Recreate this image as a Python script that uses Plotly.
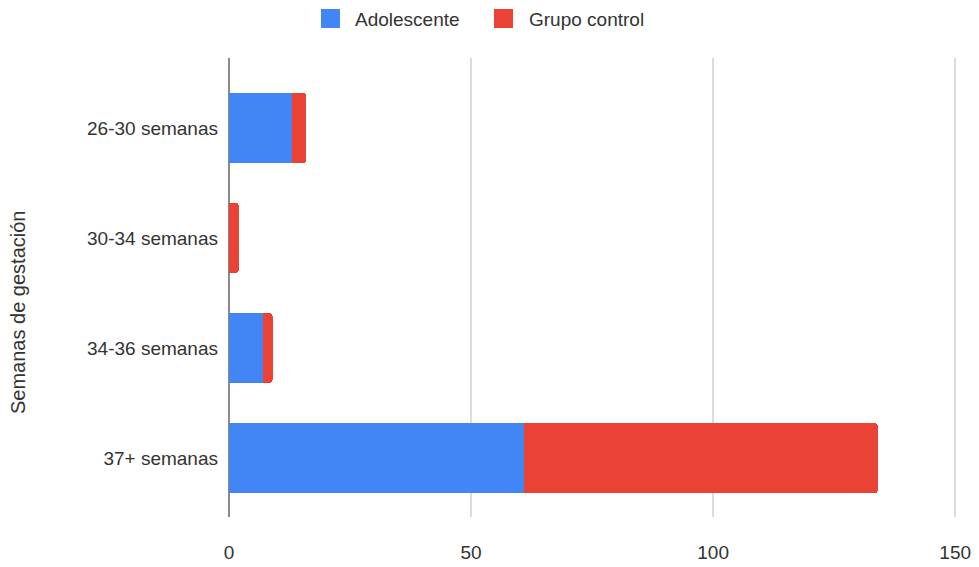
import plotly.graph_objects as go

# Gestational age groups and counts per group
categorias = ["26-30 semanas", "30-34 semanas", "34-36 semanas", "37+ semanas"]
adolescente = [13, 0, 7, 61]
grupo_control = [3, 2, 2, 73]
x_ticks = [0, 50, 100, 150]

AZUL = "#4285F4"
ROJO = "#EA4335"
FONT = "Liberation Sans, Arial, sans-serif"

W, H = 979, 567
L, R, T, B = 229, 19, 58, 50
PW, PH = W - L - R, H - T - B


def px_x(px):
    return (px - L) / PW


def px_y(py):
    return (H - B - py) / PH


fig = go.Figure()
fig.add_trace(go.Bar(
    y=categorias, x=adolescente, orientation="h", name="Adolescente",
    marker=dict(color=AZUL, line=dict(width=0)),
))
fig.add_trace(go.Bar(
    y=categorias, x=grupo_control, orientation="h", name="Grupo control",
    marker=dict(color=ROJO, line=dict(width=0), cornerradius=3),
))

fig.update_layout(
    width=W, height=H,
    margin=dict(l=L, r=R, t=T, b=B, pad=0, autoexpand=False),
    barmode="stack",
    bargap=0.364,
    showlegend=False,
    plot_bgcolor="white",
    paper_bgcolor="white",
    font=dict(family=FONT, size=19, color="#333"),
    xaxis=dict(
        range=[0, 151], tickvals=x_ticks, automargin=False,
        showgrid=True, gridcolor="#dcdcdc", gridwidth=1.5,
        zeroline=True, zerolinecolor="#8a8a8a", zerolinewidth=2,
        showline=False, ticks="", ticklabelstandoff=22,
        tickfont=dict(size=19, color="#333"),
    ),
    yaxis=dict(
        categoryorder="array", categoryarray=categorias,
        range=[3.536, -0.636], automargin=False,
        showgrid=False, zeroline=False, showline=False, ticks="",
        ticklabelstandoff=10,
        tickfont=dict(size=19, color="#333"),
    ),
)

# Axis title for the categories
fig.add_annotation(
    x=px_x(18), y=px_y(313), xref="paper", yref="paper",
    text="Semanas de gestación", textangle=-90, showarrow=False,
    font=dict(size=20, color="#333"), xanchor="center", yanchor="middle",
)

# Legend row at the top
legend_items = [("Adolescente", AZUL, 321, 353), ("Grupo control", ROJO, 494, 527)]
for nombre, color, sx, tx in legend_items:
    fig.add_shape(
        type="rect", xref="paper", yref="paper",
        x0=px_x(sx), x1=px_x(sx + 19), y0=px_y(9), y1=px_y(28),
        fillcolor=color, line=dict(width=0),
    )
    fig.add_annotation(
        x=px_x(tx), y=px_y(19), xref="paper", yref="paper",
        text=nombre, showarrow=False, xanchor="left", yanchor="middle",
        font=dict(size=19, color="#333"),
    )

fig.write_html("out.html")
